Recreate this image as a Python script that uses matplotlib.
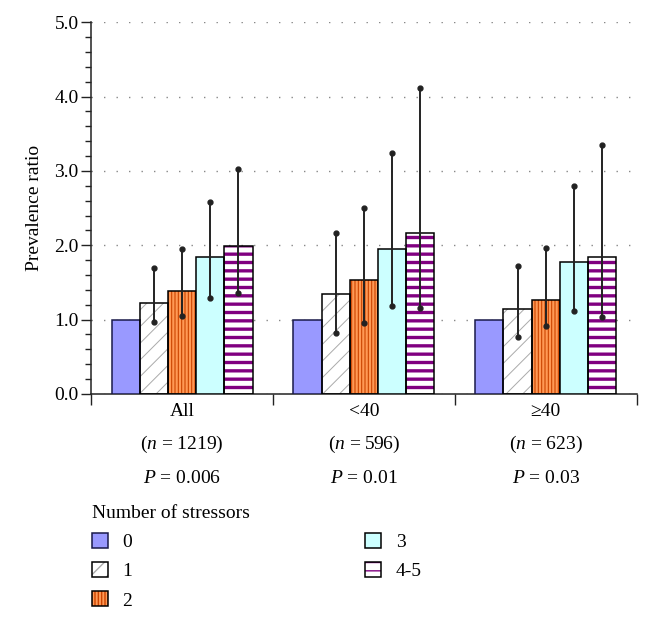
import matplotlib
matplotlib.use("Agg")
import matplotlib.pyplot as plt
import matplotlib.patches as mpatches
from matplotlib.legend_handler import HandlerTuple
from matplotlib.ticker import MultipleLocator, FormatStrFormatter
import numpy as np

########
# DATA #
########

groups = ["All", "<40", "\u226540"]
group_n = ["1219", "596", "623"]
group_p = ["0.006", "0.01", "0.03"]
stressors = ["0", "1", "2", "3", "4-5"]

# prevalence ratio per number of stressors, one list per group
pr_all = [1.00, 1.22, 1.38, 1.84, 1.99]
pr_lt40 = [1.00, 1.34, 1.53, 1.95, 2.16]
pr_ge40 = [1.00, 1.14, 1.26, 1.77, 1.84]

# 95% CI (lower, upper); reference group has none
lo_all = [None, 0.97, 1.05, 1.29, 1.36]
hi_all = [None, 1.69, 1.95, 2.58, 3.03]
lo_lt40 = [None, 0.82, 0.96, 1.19, 1.16]
hi_lt40 = [None, 2.17, 2.50, 3.24, 4.11]
lo_ge40 = [None, 0.76, 0.92, 1.12, 1.03]
hi_ge40 = [None, 1.72, 1.96, 2.80, 3.35]

values = [pr_all, pr_lt40, pr_ge40]
lowers = [lo_all, lo_lt40, lo_ge40]
uppers = [hi_all, hi_lt40, hi_ge40]

##########
# STYLES #
##########

plt.rcParams["font.family"] = ["Liberation Serif", "DejaVu Serif"]
plt.rcParams["mathtext.fontset"] = "custom"
plt.rcParams["mathtext.rm"] = "Liberation Serif"
plt.rcParams["mathtext.it"] = "Liberation Serif:italic"
plt.rcParams["hatch.linewidth"] = 1.0

FS = 14
fills = ["#9999ff", "white", "#ff9955", "#ccffff", "white"]
hatches = [None, "//", "|||||", None, "--"]
hatch_cols = [None, "#aaaaaa", "#cc4400", None, "#800080"]
hatch_lw = [None, 0.7, 0.8, None, 2.4]
edges = ["#1a1a4a", "black", "black", "black", "black"]

############
# PLOTTING #
############

fig = plt.figure(figsize=(6.51, 6.18), dpi=100)
ax = fig.add_axes([0.140, 0.3625, 0.838, 0.6015])

x = np.arange(len(groups))
w = 0.155
legend_handles = []
for i, name in enumerate(stressors):
    pos = x + (i - 2) * w
    heights = [v[i] for v in values]
    if hatches[i]:
        hb = ax.bar(pos, heights, w, color=fills[i], edgecolor=hatch_cols[i],
                    hatch=hatches[i], linewidth=0, zorder=2)
        for p in hb:
            if hasattr(p, "set_hatch_linewidth"):
                p.set_hatch_linewidth(hatch_lw[i])
        ax.bar(pos, heights, w, facecolor="none", edgecolor=edges[i],
               linewidth=1.1, zorder=3)
        h1 = mpatches.Patch(facecolor=fills[i], edgecolor=hatch_cols[i],
                            hatch=hatches[i], linewidth=0)
        if hasattr(h1, "set_hatch_linewidth"):
            h1.set_hatch_linewidth(hatch_lw[i])
        h2 = mpatches.Patch(facecolor="none", edgecolor=edges[i], linewidth=1.1)
        legend_handles.append((h1, h2))
    else:
        ax.bar(pos, heights, w, color=fills[i], edgecolor=edges[i],
               linewidth=1.1, zorder=3)
        legend_handles.append(mpatches.Patch(facecolor=fills[i],
                                             edgecolor=edges[i], linewidth=1.1))
    # confidence intervals
    for g in range(len(groups)):
        lo, hi = lowers[g][i], uppers[g][i]
        if lo is None:
            continue
        ax.plot([pos[g], pos[g]], [lo, hi], color="#222222", lw=1.4,
                marker="o", ms=3.5, zorder=4)

ax.set_xlim(-0.5, 2.5)
ax.set_ylim(0, 5)
ax.yaxis.set_major_locator(MultipleLocator(1))
ax.yaxis.set_minor_locator(MultipleLocator(0.2))
ax.yaxis.set_major_formatter(FormatStrFormatter("%.1f"))
ax.set_xticks([-0.5, 0.5, 1.5, 2.5])
ax.set_xticklabels([])
ax.tick_params(axis="x", length=8, width=1, color="#222222")
ax.tick_params(axis="y", which="major", length=7, width=1, color="#222222",
               labelsize=FS, pad=2)
ax.tick_params(axis="y", which="minor", length=4, width=1, color="#222222")
for s in ["top", "right"]:
    ax.spines[s].set_visible(False)
for s in ["left", "bottom"]:
    ax.spines[s].set_linewidth(1.1)
    ax.spines[s].set_color("#222222")

ax.set_axisbelow(True)
ax.yaxis.grid(True, color="#888888", linestyle=(0, (1, 8)), linewidth=1.0)
ax.yaxis.get_gridlines()[-1].set_visible(False)
ax.set_ylabel("Prevalence ratio", fontsize=FS, labelpad=8)

tr = ax.get_xaxis_transform()
for g in range(len(groups)):
    ax.text(x[g], -0.046, groups[g], transform=tr, ha="center", va="center",
            fontsize=FS)
    ax.text(x[g], -0.137, "($n$ = %s)" % group_n[g], transform=tr,
            ha="center", va="center", fontsize=FS)
    ax.text(x[g], -0.228, "$P$ = %s" % group_p[g], transform=tr,
            ha="center", va="center", fontsize=FS)

leg = fig.legend(legend_handles, stressors, ncol=2, loc="upper left",
                 bbox_to_anchor=(0.120, 0.205), frameon=False,
                 title="Number of stressors", alignment="left",
                 fontsize=FS, title_fontsize=FS,
                 handlelength=0.82, handleheight=0.82, handletextpad=0.75,
                 labelspacing=0.56, columnspacing=12.0, borderpad=0.2,
                 handler_map={tuple: HandlerTuple(ndivide=1, pad=0)})

plt.savefig("out.png", dpi=100)
